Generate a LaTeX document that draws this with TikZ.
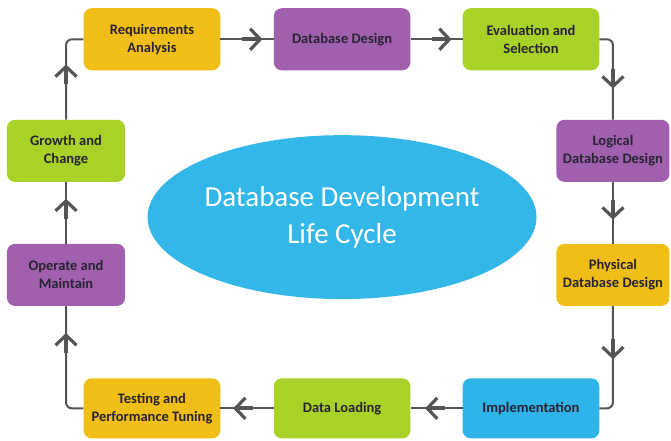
\documentclass[tikz,border=0pt]{standalone}
\usepackage{fontspec}
\setmainfont{Carlito}
\usetikzlibrary{arrows.meta,shapes.geometric,decorations.markings}

\definecolor{stepyellow}{RGB}{240,190,22}
\definecolor{steppurple}{RGB}{160,96,174}
\definecolor{stepgreen}{RGB}{168,210,40}
\definecolor{stepblue}{RGB}{46,180,232}
\definecolor{cycleblue}{RGB}{51,183,233}
\definecolor{linegray}{RGB}{85,85,85}
\definecolor{labeltext}{RGB}{40,35,50}

\tikzset{
  phase/.style={rounded corners=8pt, align=center, text=labeltext,
    minimum height=2.18cm, inner sep=2pt,
    font=\fontsize{14.5}{18}\selectfont\bfseries},
  flow/.style={draw=linegray, line width=2pt, rounded corners=6pt,
    postaction={decorate},
    decoration={markings, mark=at position #1 with {
      \draw[draw=linegray, line width=4pt,
        -{Straight Barb[length=10pt,width=21pt,line width=3.2pt]}]
        (-20pt,0) -- (0pt,0);}}}
}

\begin{document}
\begin{tikzpicture}
  \fill[white] (0, 0) rectangle (23.58, 15.47);
  \useasboundingbox (0, 0) rectangle (23.58, 15.47);

  \node[fill=cycleblue, ellipse, minimum width=11.96cm, minimum height=5.76cm,
    inner sep=0pt, align=center, text=white,
    font=\fontsize{29}{37}\selectfont] (cycle) at (12.02, 7.84)
    {Database Development\\Life Cycle};

  % top row
  \node[phase, fill=stepyellow, minimum width=4.8cm] (req) at (5.34, 14.09) {Requirements\\Analysis};
  \node[phase, fill=steppurple, minimum width=4.8cm] (dbd) at (12.02, 14.09) {Database Design};
  \node[phase, fill=stepgreen, minimum width=4.8cm] (eval) at (18.66, 14.09) {Evaluation and\\Selection};

  % right column
  \node[phase, fill=steppurple, minimum width=3.97cm] (logic) at (21.54, 10.17) {Logical\\Database Design};
  \node[phase, fill=stepyellow, minimum width=3.97cm] (phys) at (21.54, 5.81) {Physical\\Database Design};

  % bottom row
  \node[phase, fill=stepblue, minimum width=4.8cm, minimum height=2.11cm] (impl) at (18.66, 1.12) {Implementation};
  \node[phase, fill=stepgreen, minimum width=4.8cm, minimum height=2.11cm] (load) at (12.02, 1.12) {Data Loading};
  \node[phase, fill=stepyellow, minimum width=4.8cm, minimum height=2.11cm] (test) at (5.34, 1.12) {Testing and\\Performance Tuning};

  % left column
  \node[phase, fill=steppurple, minimum width=4.15cm] (oper) at (2.32, 5.81) {Operate and\\Maintain};
  \node[phase, fill=stepgreen, minimum width=4.15cm] (grow) at (2.32, 10.17) {Growth and\\Change};

  \draw[flow=0.79] (req) -- (dbd);
  \draw[flow=0.79] (dbd) -- (eval);
  \draw[flow=0.66] (eval.east) -| (logic.north);
  \draw[flow=0.61] (logic) -- (phys);
  \draw[flow=0.47] (phys.south) |- (impl.east);
  \draw[flow=0.72] (impl) -- (load);
  \draw[flow=0.76] (load) -- (test);
  \draw[flow=0.77] (test.west) -| (oper.south);
  \draw[flow=0.73] (oper) -- (grow);
  \draw[flow=0.58] (grow.north) |- (req.west);
\end{tikzpicture}
\end{document}
